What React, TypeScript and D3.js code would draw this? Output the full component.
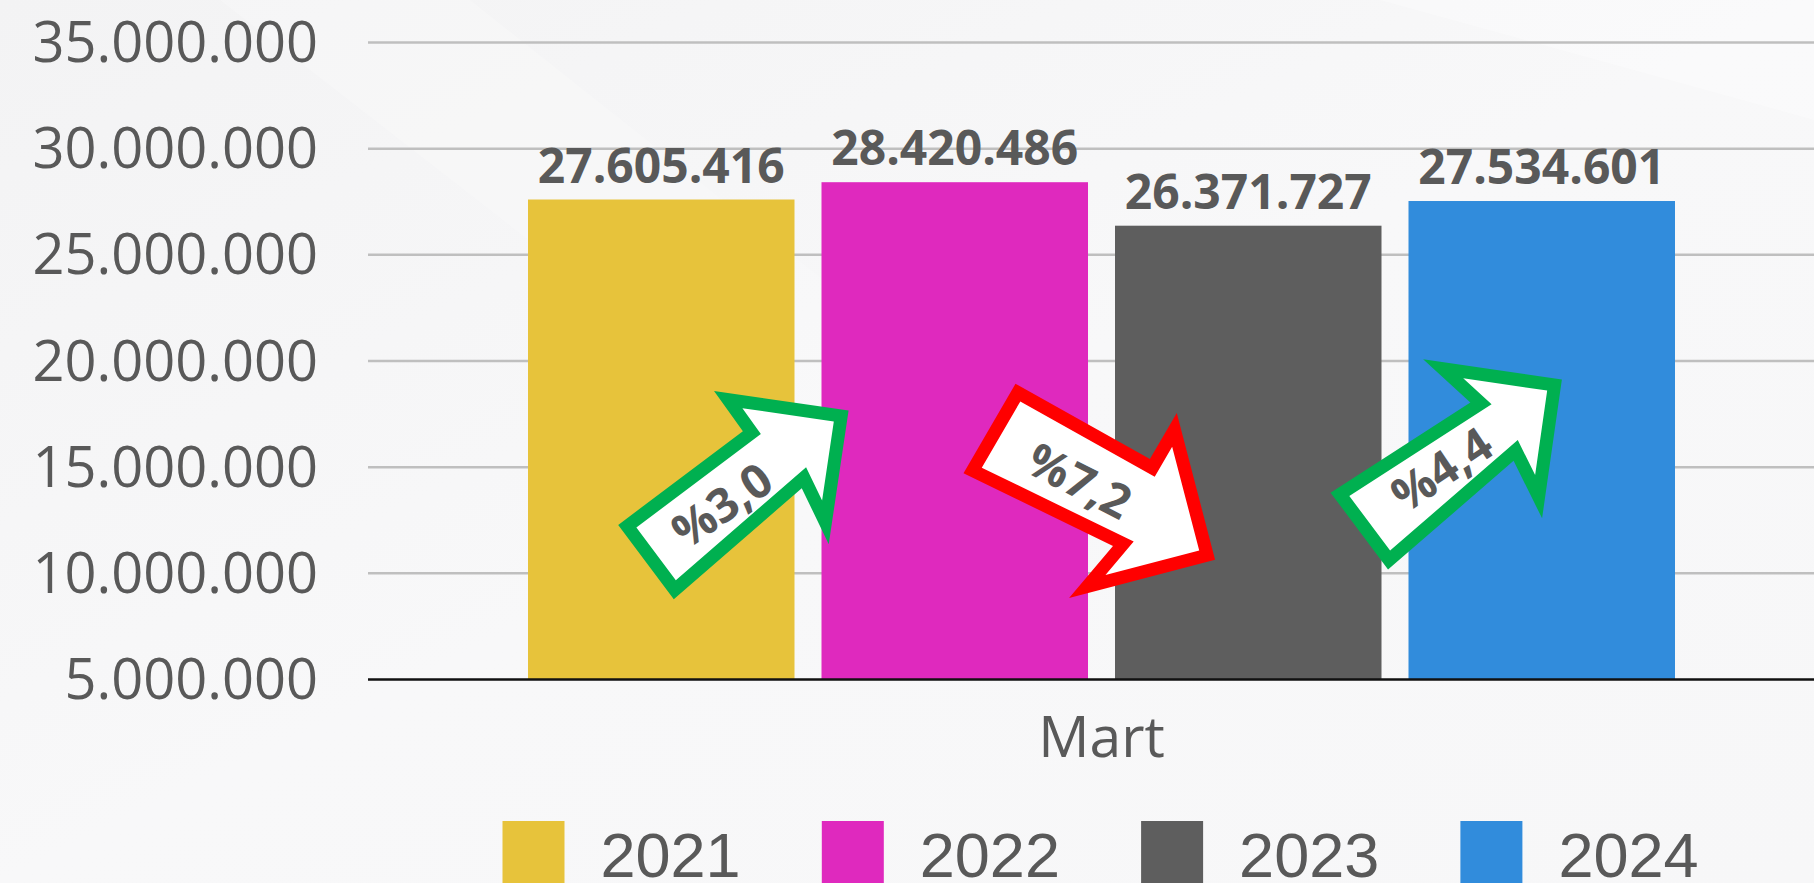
import React from "react";
import * as d3 from "d3";

// ---------- data ----------
const categories = ["Mart"];
const years = ["2021", "2022", "2023", "2024"];
const values = [27605416, 28420486, 26371727, 27534601];
const yTicks = [5000000, 10000000, 15000000, 20000000, 25000000, 30000000, 35000000];
const changeLabels = ["%3,0", "%7,2", "%4,4"];
const changeUp = [true, false, true];

// ---------- layout / style ----------
const W = 1814;
const H = 883;
const COLORS = ["#E7C33B", "#DF29BE", "#5E5E5E", "#318CDC"];
const TEXT = "#595959";
const UP = "#00B050";
const DOWN = "#FF0000";
const PLOT = { left: 368, right: 1835, top: 42.5, bottom: 679.5 };

// arrow annotation geometry (local frame: u along arrow from tail, v across)
const ARROW_LAYOUT = [
  { dx: -162, at: 10.53e6, angle: -36.8, tail: 46.4, neckNeg: [156, 46.8], neckPos: [169, 34.1], barbU: 157, barbNeg: 96.3, barbPos: 95.2, tip: 253, textU: 95, textAngle: -35 },
  { dx: -112, at: 16.82e6, angle: 30.2, tail: 51.7, neckNeg: [154, 54.3], neckPos: [165.8, 39.4], barbU: 154, barbNeg: 107.7, barbPos: 106.4, tip: 261, textU: 104, textAngle: 27 },
  { dx: -35.7, at: 11.99e6, angle: -36.8, tail: 48, neckNeg: [166, 36.5], neckPos: [165.6, 36.2], barbU: 154, barbNeg: 99.3, barbPos: 99.3, tip: 253, textU: 103, textAngle: -34 },
];
const BORDER = 13;
const ARROW_FONT = 47;

const fmt = d3.formatLocale({ decimal: ",", thousands: ".", grouping: [3], currency: ["", ""] }).format(",d");

function inset(pts: number[][], off: number): number[][] {
  const n = pts.length;
  let A = 0;
  for (let i = 0; i < n; i++) {
    const p = pts[i], q = pts[(i + 1) % n];
    A += p[0] * q[1] - q[0] * p[1];
  }
  const s = A > 0 ? 1 : -1;
  const lines = pts.map((p, i) => {
    const q = pts[(i + 1) % n];
    const dx = q[0] - p[0], dy = q[1] - p[1];
    const L = Math.hypot(dx, dy);
    const ux = dx / L, uy = dy / L;
    const nx = s * -uy, ny = s * ux;
    return { p: [p[0] + nx * off, p[1] + ny * off], d: [ux, uy] };
  });
  return pts.map((_, i) => {
    const l1 = lines[(i - 1 + n) % n], l2 = lines[i];
    const cr = l1.d[0] * l2.d[1] - l1.d[1] * l2.d[0];
    if (Math.abs(cr) < 1e-9) return l2.p;
    const wx = l2.p[0] - l1.p[0], wy = l2.p[1] - l1.p[1];
    const t = (wx * l2.d[1] - wy * l2.d[0]) / cr;
    return [l1.p[0] + t * l1.d[0], l1.p[1] + t * l1.d[1]];
  });
}

export default function App() {
  const y = d3.scaleLinear().domain([yTicks[0], yTicks[yTicks.length - 1]]).range([PLOT.bottom, PLOT.top]);
  const x0 = d3.scaleBand().domain(categories).range([PLOT.left, PLOT.right]);
  const bw0 = x0.bandwidth();
  const margin = 160;
  const x1 = d3.scaleBand().domain(years).range([margin, bw0 - margin]).paddingInner(0.092);
  const bw = x1.bandwidth();
  const cat = categories[0];
  const cx0 = x0(cat)!;
  const catCenter = cx0 + bw0 / 2;
  const line = d3.line();

  const arrows = ARROW_LAYOUT.map((a, i) => {
    const gap = cx0 + (x1(years[i])! + bw + x1(years[i + 1])!) / 2;
    const ox = gap + a.dx;
    const oy = y(a.at);
    const th = (a.angle * Math.PI) / 180;
    const c = Math.cos(th), s = Math.sin(th);
    const toG = (p: number[]) => [ox + p[0] * c - p[1] * s, oy + p[0] * s + p[1] * c];
    const local = [
      [0, -a.tail],
      [a.neckNeg[0], -a.neckNeg[1]],
      [a.barbU, -a.barbNeg],
      [a.tip, 0],
      [a.barbU, a.barbPos],
      [a.neckPos[0], a.neckPos[1]],
      [0, a.tail],
    ];
    const outer = local.map(toG);
    const inner = inset(outer, BORDER);
    const t = toG([a.textU, 0]);
    return { outer, inner, t, a, color: changeUp[i] ? UP : DOWN, label: changeLabels[i] };
  });

  const legendStep = 319.3;
  const legendStart = catCenter - 599;

  return (
    <svg width={W} height={H} style={{ position: "absolute", left: 0, top: 0, display: "block" }}>
      <defs>
        <linearGradient id="bg" x1="0" y1="0" x2="1" y2="1">
          <stop offset="0" stopColor="#f3f3f4" />
          <stop offset="0.5" stopColor="#f8f8f9" />
          <stop offset="1" stopColor="#f7f7f8" />
        </linearGradient>
      </defs>
      <rect x={0} y={0} width={W} height={H} fill="url(#bg)" />
      <polygon points="220,0 470,0 1000,420 760,420" fill="#ffffff" opacity={0.2} />
      <polygon points="1380,0 1814,0 1814,120" fill="#ffffff" opacity={0.3} />

      {/* gridlines */}
      {yTicks.slice(1).map((t) => (
        <line key={t} x1={PLOT.left} x2={W} y1={y(t)} y2={y(t)} stroke="#BFBFBF" strokeWidth={2.5} />
      ))}

      {/* y tick labels */}
      {yTicks.map((t) => (
        <text key={"l" + t} x={318} y={y(t) + 19.5} textAnchor="end" fontFamily="'Open Sans'" fontSize={56} fill={TEXT}>
          {fmt(t)}
        </text>
      ))}

      {/* bars */}
      {years.map((yr, i) => (
        <rect key={yr} x={cx0 + x1(yr)!} y={y(values[i])} width={bw} height={y(yTicks[0]) - y(values[i])} fill={COLORS[i]} />
      ))}

      {/* axis line */}
      <line x1={PLOT.left} x2={W} y1={y(yTicks[0])} y2={y(yTicks[0])} stroke="#111" strokeWidth={2.5} />

      {/* value labels */}
      {years.map((yr, i) => (
        <text key={"v" + yr} x={cx0 + x1(yr)! + bw / 2} y={y(values[i]) - 17} textAnchor="middle" fontFamily="'Open Sans'" fontWeight={700} fontSize={48} fill={TEXT}>
          {fmt(values[i])}
        </text>
      ))}

      {/* category label */}
      <text x={catCenter} y={757} textAnchor="middle" fontFamily="'Open Sans'" fontSize={57} fill={TEXT}>
        {cat}
      </text>

      {/* change arrows */}
      {arrows.map((ar, i) => (
        <g key={"a" + i}>
          <path d={line(ar.outer as [number, number][]) + "Z"} fill={ar.color} />
          <path d={line(ar.inner as [number, number][]) + "Z"} fill="#ffffff" />
          <text
            transform={`translate(${ar.t[0]},${ar.t[1]}) rotate(${ar.a.textAngle})`}
            y={ARROW_FONT * 0.357}
            textAnchor="middle"
            fontFamily="'Open Sans'"
            fontWeight={700}
            fontSize={ARROW_FONT}
            fill={TEXT}
          >
            {ar.label}
          </text>
        </g>
      ))}

      {/* legend */}
      {years.map((yr, i) => {
        const lx = legendStart + i * legendStep;
        return (
          <g key={"lg" + yr}>
            <rect x={lx} y={821} width={62} height={62} fill={COLORS[i]} />
            <text x={lx + 98} y={877} fontFamily="'Liberation Sans', Arial, sans-serif" fontSize={63} fill={TEXT}>
              {yr}
            </text>
          </g>
        );
      })}
    </svg>
  );
}
